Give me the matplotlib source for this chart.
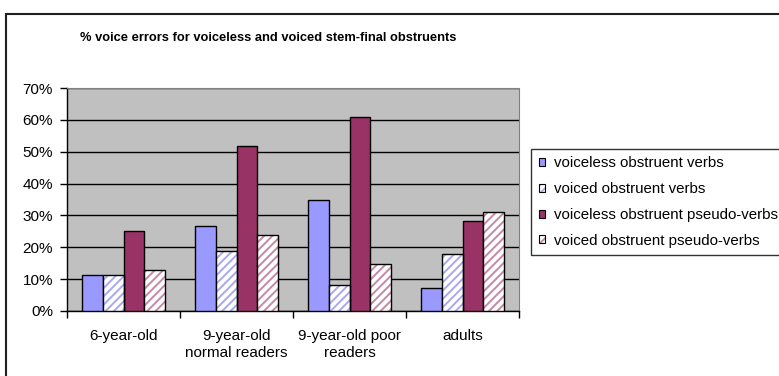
import matplotlib
matplotlib.use("Agg")
import matplotlib.pyplot as plt
import matplotlib.patches as mpatches
import numpy as np
from matplotlib.ticker import PercentFormatter
from matplotlib.legend_handler import HandlerTuple

plt.rcParams["font.family"] = ["Liberation Sans", "DejaVu Sans"]
plt.rcParams["hatch.linewidth"] = 1.4

groups = ["6-year-old", "9-year-old\nnormal readers", "9-year-old poor\nreaders", "adults"]
series = [
    "voiceless obstruent verbs",
    "voiced obstruent verbs",
    "voiceless obstruent pseudo-verbs",
    "voiced obstruent pseudo-verbs",
]
voiceless_verbs = [11.3, 26.8, 34.7, 7.1]
voiced_verbs = [11.3, 18.8, 8.3, 17.8]
voiceless_pseudo = [25.1, 51.7, 60.8, 28.3]
voiced_pseudo = [12.8, 23.8, 14.8, 31.2]
yticks = [0, 10, 20, 30, 40, 50, 60, 70]

# face colour, hatch colour (None = solid)
styles = [
    ("#9999FF", None),
    ("white", "#A8A8F0"),
    ("#993366", None),
    ("white", "#C48AA4"),
]

W, H = 779, 376
fig = plt.figure(figsize=(W / 100, H / 100), dpi=100)
ax = fig.add_axes([67 / W, 1 - 311 / H, (519 - 67) / W, (311 - 88) / H])
ax.set_facecolor("#C0C0C0")

x = np.arange(len(groups))
width = 1 / 5.5
values = [voiceless_verbs, voiced_verbs, voiceless_pseudo, voiced_pseudo]
handles = []
for i, (vals, (face, hatchc)) in enumerate(zip(values, styles)):
    pos = x + (i - 1.5) * width
    if hatchc is None:
        ax.bar(pos, vals, width, color=face, edgecolor="black", linewidth=1, zorder=3)
        handles.append(mpatches.Patch(facecolor=face, edgecolor="black", linewidth=0.8))
    else:
        ax.bar(pos, vals, width, color=face, edgecolor=hatchc, hatch="////",
               linewidth=0, zorder=3)
        ax.bar(pos, vals, width, fill=False, edgecolor="black", linewidth=1, zorder=4)
        handles.append((
            mpatches.Patch(facecolor=face, edgecolor=hatchc, hatch="////", linewidth=0),
            mpatches.Patch(fill=False, edgecolor="black", linewidth=0.8),
        ))

ax.set_xlim(-0.5, len(groups) - 0.5)
ax.set_ylim(0, 70)
ax.set_yticks(yticks)
ax.yaxis.set_major_formatter(PercentFormatter(decimals=0))
ax.set_xticks(np.arange(len(groups) + 1) - 0.5, minor=False)
ax.set_xticklabels([])
ax.set_xticks(x, minor=True)
ax.set_xticklabels(groups, minor=True, fontsize=11, linespacing=1.25)
ax.tick_params(axis="x", which="minor", length=0, pad=13)
ax.tick_params(axis="x", which="major", length=5, width=1, color="black")
ax.tick_params(axis="y", length=5, width=1, pad=5, labelsize=11)
ax.grid(axis="y", color="black", linewidth=1)
ax.set_axisbelow(True)

for side in ("top", "right"):
    ax.spines[side].set_color("#808080")
for side in ("left", "bottom"):
    ax.spines[side].set_color("black")
    ax.spines[side].set_linewidth(1)

fig.text(268 / W, 1 - 38 / H, "% voice errors for voiceless and voiced stem-final obstruents",
         ha="center", va="center", fontsize=9.3, fontweight="bold")

# outer chart border
fig.patches.append(mpatches.Rectangle((6 / W, -0.1), 1.2, 1.1 - 14 / H, transform=fig.transFigure,
                                      fill=False, edgecolor="#202020", linewidth=1.5))

leg = fig.legend(handles, series, loc="upper left", bbox_to_anchor=(531 / W, 1 - 149 / H),
                 fontsize=10.8, frameon=True, fancybox=False, borderaxespad=0,
                 handlelength=0.45, handleheight=0.45, handletextpad=0.6,
                 labelspacing=0.78, borderpad=0.5,
                 handler_map={tuple: HandlerTuple(ndivide=1)})
leg.get_frame().set_edgecolor("black")
leg.get_frame().set_linewidth(1)

fig.savefig("out.png", dpi=100, facecolor="white")
